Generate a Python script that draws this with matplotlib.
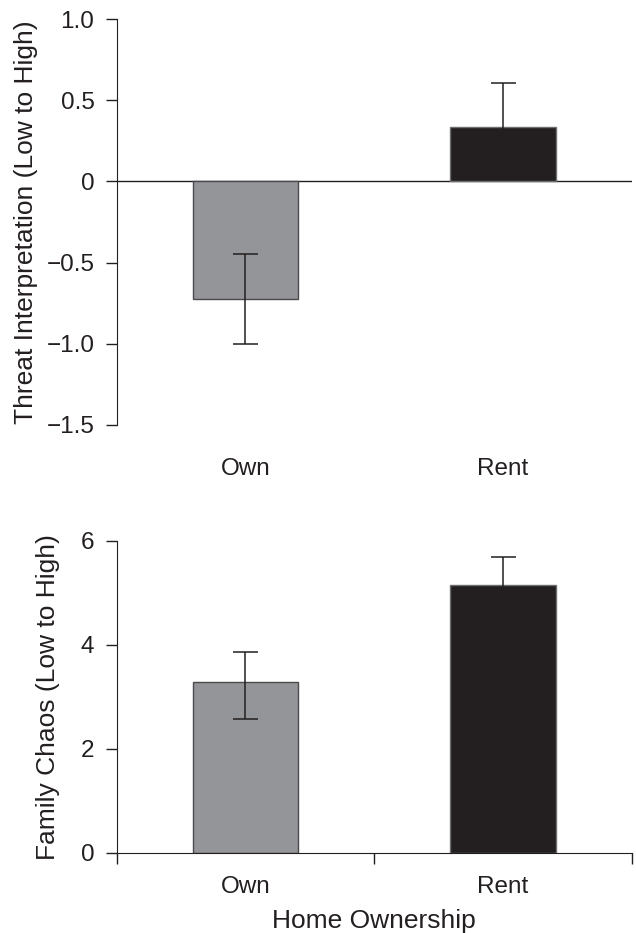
import numpy as np
import matplotlib
matplotlib.use('Agg')
import matplotlib.pyplot as plt

plt.rcParams['font.family'] = ['Liberation Sans', 'DejaVu Sans']

# data
groups = ['Own', 'Rent']
threat = [-0.725, 0.337]
threat_lo = [0.275, 0.27]
threat_hi = [0.275, 0.27]
chaos = [3.28, 5.14]
chaos_lo = [0.70, 0.55]
chaos_hi = [0.57, 0.55]

threat_ticks = [-1.5, -1.0, -0.5, 0, 0.5, 1.0]
threat_ticklabels = ['\u22121.5', '\u22121.0', '\u22120.5', '0', '0.5', '1.0']
chaos_ticks = [0, 2, 4, 6]

gray = '#939598'
black = '#231f20'
ink = '#231f20'
x = np.arange(len(groups))

fig = plt.figure(figsize=(6.36, 9.33), dpi=100)
ax1 = fig.add_axes([0.1835, 0.5448, 0.8097, 0.4345])
ax2 = fig.add_axes([0.1835, 0.0861, 0.8097, 0.3344])

for ax, vals, lo, hi in [(ax1, threat, threat_lo, threat_hi),
                         (ax2, chaos, chaos_lo, chaos_hi)]:
    ax.bar(x, vals, width=0.41, color=[gray, black],
           edgecolor=['#4a4a4c', '#6d6e70'], linewidth=1.0, zorder=2)
    ax.errorbar(x, vals, yerr=[lo, hi], fmt='none', ecolor=ink,
                elinewidth=1.1, capsize=9, capthick=1.1, zorder=3)
    ax.set_xlim(-0.5, 1.5)
    ax.spines['top'].set_visible(False)
    ax.spines['right'].set_visible(False)
    ax.spines['left'].set_color(ink)
    ax.spines['bottom'].set_color(ink)
    ax.tick_params(axis='y', direction='out', length=8, width=1,
                   color=ink, labelsize=17.5, labelcolor=ink, pad=8)

# top panel
ax1.set_ylim(-1.5, 1.0)
ax1.set_yticks(threat_ticks)
ax1.set_yticklabels(threat_ticklabels)
ax1.spines['bottom'].set_visible(False)
ax1.axhline(0, color=ink, lw=1.0, zorder=1)
ax1.set_xticks(x)
ax1.set_xticklabels(groups)
ax1.tick_params(axis='x', length=0, labelsize=17.5, labelcolor=ink, pad=24)
ax1.set_ylabel('Threat Interpretation (Low to High)', fontsize=19, color=ink)
ax1.yaxis.set_label_coords(-0.153, 0.5)

# bottom panel
ax2.set_ylim(0, 6)
ax2.set_yticks(chaos_ticks)
ax2.set_xticks([-0.5, 0.5, 1.5])
ax2.set_xticklabels([])
ax2.set_xticks(x, minor=True)
ax2.set_xticklabels(groups, minor=True)
ax2.tick_params(axis='x', which='major', direction='out', length=8, width=1, color=ink)
ax2.tick_params(axis='x', which='minor', length=0, labelsize=17.5, labelcolor=ink, pad=17)
ax2.set_xlabel('Home Ownership', fontsize=19, color=ink, labelpad=8)
ax2.set_ylabel('Family Chaos (Low to High)', fontsize=19, color=ink)
ax2.yaxis.set_label_coords(-0.110, 0.5)

fig.savefig('out.png', dpi=100)
